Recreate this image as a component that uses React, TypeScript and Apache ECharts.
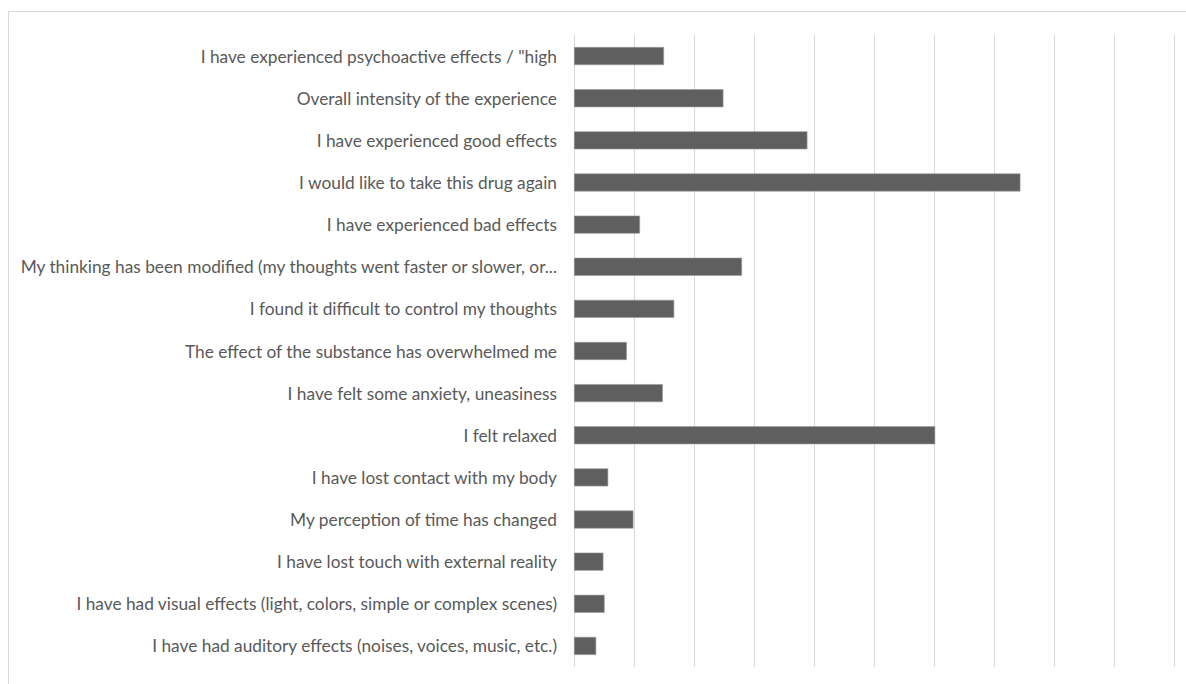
import React, { useEffect, useRef } from "react";
import * as echarts from "echarts";

const categories = [
  "I have experienced psychoactive effects / \"high",
  "Overall intensity of the experience",
  "I have experienced good effects",
  "I would like to take this drug again",
  "I have experienced bad effects",
  "My thinking has been modified (my thoughts went faster or slower, or...",
  "I found it difficult to control my thoughts",
  "The effect of the substance has overwhelmed me",
  "I have felt some anxiety, uneasiness",
  "I felt relaxed",
  "I have lost contact with my body",
  "My perception of time has changed",
  "I have lost touch with external reality",
  "I have had visual effects (light, colors, simple or complex scenes)",
  "I have had auditory effects (noises, voices, music, etc.)",
];

const values = [1.5, 2.49, 3.89, 7.44, 1.1, 2.8, 1.67, 0.88, 1.48, 6.02, 0.57, 0.99, 0.49, 0.51, 0.37];

const axisMin = 0;
const axisMax = 10;
const axisInterval = 1;

export default function App() {
  const ref = useRef<HTMLDivElement>(null);
  useEffect(() => {
    if (!ref.current) return;
    const chart = echarts.init(ref.current, null, { renderer: "svg" });
    chart.setOption({
      animation: false,
      backgroundColor: "#ffffff",
      graphic: [
        {
          type: "rect",
          shape: { x: 8.5, y: 11.5, width: 1300, height: 800 },
          style: { fill: "none", stroke: "#d9d9d9", lineWidth: 1 },
          silent: true,
          z: -1,
        },
      ],
      grid: { left: 574, right: 12, top: 35, bottom: 17, containLabel: false },
      xAxis: {
        type: "value",
        min: axisMin,
        max: axisMax,
        interval: axisInterval,
        axisLabel: { show: false },
        axisLine: { show: false },
        axisTick: { show: false },
        splitLine: { show: true, lineStyle: { color: "#d9d9d9", width: 1 } },
      },
      yAxis: {
        type: "category",
        data: categories,
        inverse: true,
        axisLine: { show: false },
        axisTick: { show: false },
        axisLabel: {
          color: "#595959",
          fontFamily: "Lato",
          fontSize: 17.3,
          margin: 17,
        },
      },
      series: [
        {
          type: "bar",
          data: values,
          barWidth: 18,
          itemStyle: { color: "#5f5f5f", borderColor: "#9a9a9a", borderWidth: 0.6 },
        },
      ],
    });
    return () => chart.dispose();
  }, []);
  return (
    <div
      ref={ref}
      style={{ position: "absolute", left: 0, top: 0, width: 1186, height: 684 }}
    />
  );
}
